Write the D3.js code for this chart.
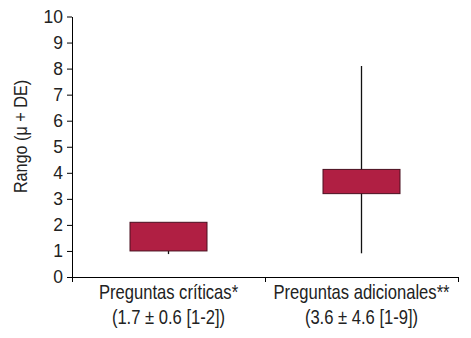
<!DOCTYPE html>
<html>
<head>
<meta charset="utf-8">
<script src="https://cdn.jsdelivr.net/npm/d3@7"></script>
<style>
  body { margin: 0; background: #fff; }
  svg { display: block; font-family: "Liberation Sans", Arial, sans-serif; }
</style>
</head>
<body>
<div id="chart"></div>
<script>
// Données
const categories = ['Preguntas críticas*', 'Preguntas adicionales**'];
const subLabels = ['(1.7 ± 0.6 [1-2])', '(3.6 ± 4.6 [1-9])'];
const boxLow = [1.0, 3.2];
const boxHigh = [2.1, 4.13];
const whiskerMin = [0.88, 0.91];
const whiskerMax = [1.0, 8.1];
const yTicks = d3.range(0, 11, 1);

const W = 471, H = 338;
const margin = { top: 16.5, right: 13, bottom: 61, left: 72 };
const width = W - margin.left - margin.right;
const height = H - margin.top - margin.bottom;

const svg = d3.select('#chart').append('svg')
    .attr('width', W)
    .attr('height', H);

const g = svg.append('g')
    .attr('transform', `translate(${margin.left},${margin.top})`);

// Échelles
const x = d3.scaleBand().domain(categories).range([0, width]).padding(0);
const xEdge = d3.scaleLinear().domain([0, categories.length]).range([0, width]);
const y = d3.scaleLinear().domain([0, 10]).range([height, 0]);

// Axe Y
const yAxis = g.append('g')
    .call(d3.axisLeft(y).tickValues(yTicks).tickSize(5).tickSizeOuter(0).tickPadding(4));
yAxis.select('.domain').attr('stroke', '#000');
yAxis.selectAll('.tick line').attr('stroke', '#000');
yAxis.selectAll('.tick text')
    .style('font-size', '17.5px')
    .style('fill', '#222')
    .style('font-family', '"Liberation Sans", Arial, sans-serif');

// Axe X (graduations aux limites des catégories)
const xAxis = g.append('g')
    .attr('transform', `translate(0,${height})`)
    .call(d3.axisBottom(xEdge).tickValues(d3.range(categories.length + 1)).tickFormat('').tickSize(5).tickSizeOuter(0));
xAxis.select('.domain').attr('stroke', '#000');
xAxis.selectAll('.tick line').attr('stroke', '#000');

// Libellés des catégories (police un peu condensée)
const labels = g.append('g');
categories.forEach((c, i) => {
    const cx = x(c) + x.bandwidth() / 2;
    labels.append('text')
        .attr('transform', `translate(${cx},${height + 22}) scale(0.83,1)`)
        .attr('text-anchor', 'middle')
        .style('font-size', '20px')
        .style('fill', '#222')
        .text(c);
    labels.append('text')
        .attr('transform', `translate(${cx},${height + 47}) scale(0.83,1)`)
        .attr('text-anchor', 'middle')
        .style('font-size', '20px')
        .style('fill', '#222')
        .text(subLabels[i]);
});

// Titre de l'axe Y
svg.append('text')
    .attr('transform', `translate(27,136.5) rotate(-90) scale(0.9,1)`)
    .attr('text-anchor', 'middle')
    .style('font-size', '18px')
    .style('fill', '#222')
    .text('Rango (μ + DE)');

// Boîtes et moustaches
const boxW = 77;
const items = categories.map((c, i) => ({
    c, low: boxLow[i], high: boxHigh[i], min: whiskerMin[i], max: whiskerMax[i]
}));

const marks = g.append('g');
marks.selectAll('line.whisker')
    .data(items)
    .join('line')
    .attr('class', 'whisker')
    .attr('x1', d => x(d.c) + x.bandwidth() / 2)
    .attr('x2', d => x(d.c) + x.bandwidth() / 2)
    .attr('y1', d => y(d.max))
    .attr('y2', d => y(d.min))
    .attr('stroke', '#111')
    .attr('stroke-width', 1.3);

marks.selectAll('rect.box')
    .data(items)
    .join('rect')
    .attr('class', 'box')
    .attr('x', d => x(d.c) + x.bandwidth() / 2 - boxW / 2)
    .attr('y', d => y(d.high))
    .attr('width', boxW)
    .attr('height', d => y(d.low) - y(d.high))
    .attr('fill', '#b01f43')
    .attr('stroke', '#4a1020')
    .attr('stroke-width', 1);
</script>
</body>
</html>
